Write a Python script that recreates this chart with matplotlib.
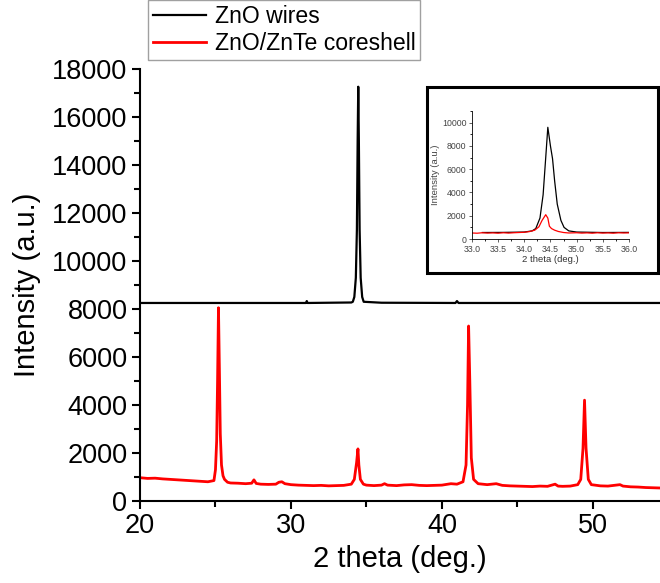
import matplotlib
matplotlib.use("Agg")
import matplotlib.pyplot as plt
from matplotlib.patches import Rectangle
from matplotlib.ticker import MultipleLocator, FormatStrFormatter

plt.rcParams["font.family"] = ["Liberation Sans", "DejaVu Sans"]

# XRD scan, ZnO wires (already shifted up for the stacked view)
wire_x = [20.0, 25.0, 31.0, 31.05, 31.1, 34.0, 34.1, 34.2, 34.3, 34.37, 34.42, 34.46,
          34.5, 34.55, 34.62, 34.72, 34.82, 36.0, 40.9, 41.0, 41.1, 47.0, 57.0]
wire_y = [8250, 8250, 8250, 8330, 8250, 8270, 8300, 8500, 9300, 11300, 15000, 17260,
          15000, 11300, 9300, 8500, 8300, 8260, 8250, 8330, 8250, 8250, 8250]

# XRD scan, ZnO/ZnTe core-shell
shell_x = [20.0, 20.5, 21.0, 21.5, 22.0, 22.5, 23.0, 23.5, 24.0, 24.5, 24.9, 25.0,
           25.08, 25.14, 25.2, 25.26, 25.32, 25.4, 25.5, 25.6, 25.8, 26.0, 26.5, 27.0,
           27.4, 27.55, 27.7, 28.0, 28.5, 29.0, 29.2, 29.4, 29.6, 30.0, 30.5, 31.0,
           31.5, 32.0, 32.5, 33.0, 33.5, 34.0, 34.2, 34.35, 34.44, 34.5, 34.6, 34.8,
           35.0, 35.5, 36.0, 36.2, 36.4, 37.0, 37.5, 38.0, 38.5, 39.0, 39.5, 40.0,
           40.6, 41.0, 41.4, 41.6, 41.7, 41.77, 41.85, 41.95, 42.1, 42.4, 43.0, 43.6,
           44.0, 44.5, 45.0, 45.5, 46.0, 46.5, 47.0, 47.5, 47.7, 48.0, 48.5, 49.0,
           49.2, 49.35, 49.45, 49.55, 49.7, 49.9, 50.5, 51.0, 51.8, 52.0, 52.5, 53.0,
           53.5, 54.0, 54.5, 55.0]
shell_y = [970, 940, 950, 920, 900, 880, 860, 840, 820, 800, 850, 1300,
           2500, 5000, 8050, 5500, 2800, 1500, 1050, 900, 780, 750, 740, 720,
           740, 880, 730, 700, 690, 700, 780, 800, 720, 680, 660, 650,
           640, 650, 630, 640, 650, 700, 900, 1600, 2170, 1500, 900, 700,
           660, 640, 660, 720, 660, 640, 670, 680, 650, 640, 650, 660,
           720, 700, 800, 1500, 4000, 7290, 5000, 1800, 900, 720, 680, 720,
           650, 630, 620, 610, 600, 620, 610, 700, 620, 610, 620, 680,
           900, 2200, 4200, 2200, 900, 680, 630, 620, 680, 620, 590, 580,
           560, 550, 540, 530]

# fine scan around the ZnO (002) reflection
zoom_wire_x = [33.2, 33.6, 34.0, 34.15, 34.22, 34.3, 34.36, 34.41, 34.45, 34.5,
               34.54, 34.58, 34.63, 34.7, 34.76, 34.85, 35.0, 35.5, 36.0]
zoom_wire_y = [560, 570, 600, 700, 900, 1800, 3800, 7000, 9600, 8000,
               6900, 5000, 3000, 1600, 1000, 700, 600, 560, 570]
zoom_shell_x = [33.0, 33.1, 33.2, 33.3, 33.4, 33.5, 33.6, 33.7, 33.8, 33.9, 34.0,
                34.1, 34.2, 34.28, 34.34, 34.41, 34.45, 34.48, 34.52, 34.58, 34.65,
                34.75, 34.85, 35.0, 35.1, 35.2, 35.3, 35.4, 35.5, 35.6, 35.7, 35.8,
                35.9, 36.0]
zoom_shell_y = [520, 500, 540, 510, 530, 500, 540, 510, 540, 560, 580,
                640, 760, 1050, 1600, 2090, 1800, 1100, 900, 760, 650,
                560, 520, 540, 510, 530, 500, 540, 510, 530, 500, 540,
                520, 530]

fig = plt.figure(figsize=(6.6, 5.83), dpi=100)
ax = fig.add_axes([0.2121, 0.1407, 0.7879, 0.741])

l1, = ax.plot(wire_x, wire_y, color="black", lw=1.6, label="ZnO wires")
l2, = ax.plot(shell_x, shell_y, color="#ff0000", lw=2.0, label="ZnO/ZnTe coreshell")

ax.set_xlim(20, 54.45)
ax.set_ylim(0, 18000)
ax.xaxis.set_major_locator(MultipleLocator(10))
ax.xaxis.set_minor_locator(MultipleLocator(5))
ax.yaxis.set_major_locator(MultipleLocator(2000))
ax.yaxis.set_minor_locator(MultipleLocator(1000))
for s in ["top", "right"]:
    ax.spines[s].set_visible(False)
for s in ["left", "bottom"]:
    ax.spines[s].set_linewidth(1.5)
ax.tick_params(which="major", direction="out", length=6, width=1.5, labelsize=19.5, pad=3)
ax.tick_params(which="minor", direction="out", length=4, width=1.5)
ax.set_xlabel("2 theta (deg.)", fontsize=21, labelpad=4)
ax.set_ylabel("Intensity (a.u.)", fontsize=21, labelpad=8)

fig.legend(handles=[l1, l2], loc="upper left", bbox_to_anchor=(148 / 660, 1.0),
           fontsize=16.6, frameon=True, fancybox=False, edgecolor="#888888",
           handlelength=2.3, handletextpad=0.4, labelspacing=0.2, borderpad=0.2,
           borderaxespad=0)

# framed inset
frame = Rectangle((0.647, 0.532), 0.35, 0.319, transform=fig.transFigure,
                  facecolor="white", edgecolor="black", lw=2.2, zorder=1)
fig.add_artist(frame)

ins = fig.add_axes([0.715, 0.590, 0.238, 0.2196], zorder=2)
ins.patch.set_alpha(0)
ins.plot(zoom_wire_x, zoom_wire_y, color="black", lw=0.9)
ins.plot(zoom_shell_x, zoom_shell_y, color="#ff0000", lw=0.9)
ins.set_xlim(33, 36)
ins.set_ylim(0, 11000)
ins.xaxis.set_major_locator(MultipleLocator(0.5))
ins.xaxis.set_minor_locator(MultipleLocator(0.25))
ins.xaxis.set_major_formatter(FormatStrFormatter("%.1f"))
ins.yaxis.set_major_locator(MultipleLocator(2000))
ins.yaxis.set_minor_locator(MultipleLocator(1000))
for s in ["top", "right"]:
    ins.spines[s].set_visible(False)
for s in ["left", "bottom"]:
    ins.spines[s].set_linewidth(0.6)
ins.tick_params(which="major", direction="out", length=2.5, width=0.6, labelsize=6.3,
                pad=1.5, colors="#444444")
ins.tick_params(which="minor", direction="out", length=1.5, width=0.6)
ins.set_xlabel("2 theta (deg.)", fontsize=6.8, labelpad=1, color="#333333")
ins.set_ylabel("Intensity (a.u.)", fontsize=6.8, labelpad=1, color="#444444")

fig.savefig("out.png", dpi=100)
